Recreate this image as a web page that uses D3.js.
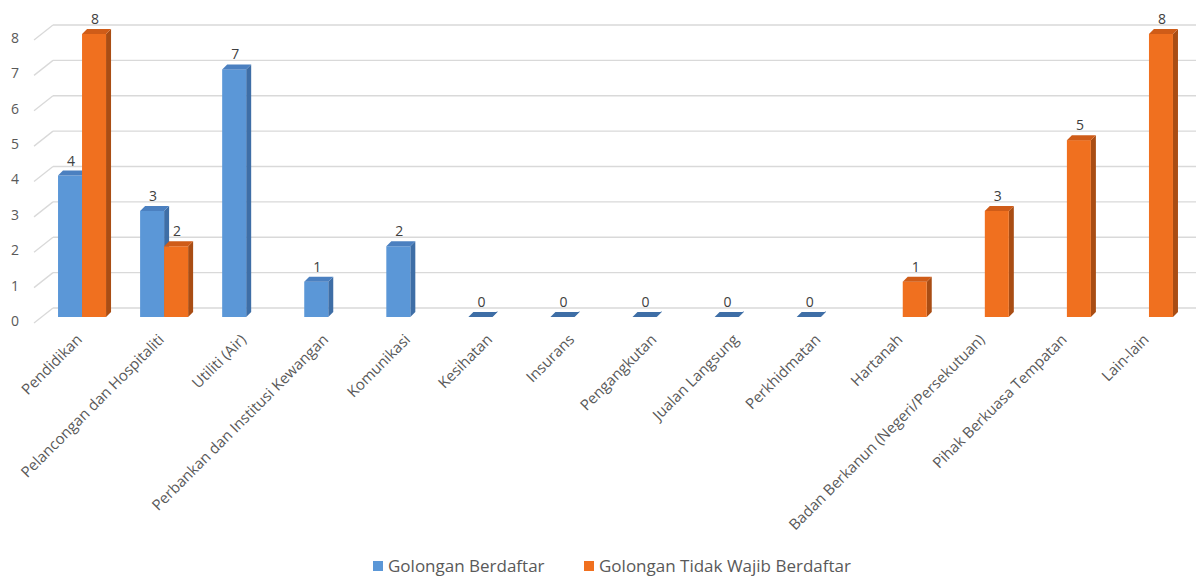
<!DOCTYPE html>
<html lang="en">
	<head>
		<meta charset="utf-8">
		<title>Golongan Berdaftar vs Tidak Wajib Berdaftar</title>
		<script type="text/javascript" src="https://cdn.jsdelivr.net/npm/d3@7/dist/d3.min.js"></script>
		<style type="text/css">
			body { margin: 0; background: #fff; }
			text { font-family: "Open Sans", sans-serif; }
		</style>
	</head>
	<body>
		<script type="text/javascript">

			//Data
			var categories = ["Pendidikan", "Pelancongan dan Hospitaliti", "Utiliti (Air)",
							  "Perbankan dan Institusi Kewangan", "Komunikasi", "Kesihatan",
							  "Insurans", "Pengangkutan", "Jualan Langsung", "Perkhidmatan",
							  "Hartanah", "Badan Berkanun (Negeri/Persekutuan)",
							  "Pihak Berkuasa Tempatan", "Lain-lain"];
			var berdaftar  = [4, 3, 7, 1, 2, 0, 0, 0, 0, 0, null, null, null, null];
			var tidakWajib = [8, 2, null, null, null, null, null, null, null, null, 1, 3, 5, 8];
			var seriesNames = ["Golongan Berdaftar", "Golongan Tidak Wajib Berdaftar"];
			var yTicks = [0, 1, 2, 3, 4, 5, 6, 7, 8];

			//Width and height
			var w = 1200;
			var h = 576;

			var colors = [
				{ front: "#5b97d7", side: "#3e6ea6", top: "#4b80c0" },
				{ front: "#f0701f", side: "#a94d14", top: "#cf5c18" }
			];

			var dx = 5, dy = -5;     //bar depth
			var wallX = 19, wallY = -9; //offset of the back wall

			var xScale = d3.scaleBand()
							.domain(categories)
							.range([41, 1190])
							.paddingInner(0.415)
							.paddingOuter(0.2075);

			var xInner = d3.scaleBand()
							.domain([0, 1])
							.range([0, xScale.bandwidth()]);

			var yScale = d3.scaleLinear()
							.domain([0, 8])
							.range([317, 34]);

			var svg = d3.select("body")
						.append("svg")
						.attr("width", w)
						.attr("height", h);

			//Gridlines on the back wall
			var grid = svg.append("g");
			grid.selectAll("line.h")
				.data(yTicks)
				.enter()
				.append("line")
				.attr("class", "h")
				.attr("x1", 34 + wallX)
				.attr("x2", 1196)
				.attr("y1", function(d) { return yScale(d) + wallY; })
				.attr("y2", function(d) { return yScale(d) + wallY; })
				.attr("stroke", "#d9d9d9")
				.attr("stroke-width", 1.3);
			grid.selectAll("line.d")
				.data(yTicks)
				.enter()
				.append("line")
				.attr("class", "d")
				.attr("x1", 34)
				.attr("x2", 34 + wallX)
				.attr("y1", function(d) { return yScale(d) + 6; })
				.attr("y2", function(d) { return yScale(d) + wallY; })
				.attr("stroke", "#d9d9d9")
				.attr("stroke-width", 1.3);

			//Y axis labels
			svg.append("g")
				.attr("transform", "translate(25,4)")
				.call(d3.axisLeft(yScale).tickValues(yTicks).tickSize(0).tickPadding(6))
				.call(function(g) { g.select(".domain").remove(); })
				.selectAll("text")
				.attr("font-family", "Open Sans, sans-serif")
				.attr("font-size", "14px")
				.attr("fill", "#595959");

			//Flatten the two series into bar records
			var bars = [];
			[berdaftar, tidakWajib].forEach(function(series, s) {
				series.forEach(function(v, i) {
					if (v !== null) bars.push({ cat: categories[i], s: s, v: v });
				});
			});

			function bx(d) { return xScale(d.cat) + xInner(d.s); }
			var bw = xInner.bandwidth();

			var barG = svg.append("g")
						  .selectAll("g")
						  .data(bars)
						  .enter()
						  .append("g");

			//Side face
			barG.append("path")
				.attr("d", function(d) {
					var x1 = bx(d) + bw, y0 = yScale(0), y1 = yScale(d.v) - (d.v === 0 ? 1 : 0);
					return "M" + x1 + "," + y0 + "L" + (x1 + dx) + "," + (y0 + dy) +
						   "L" + (x1 + dx) + "," + (y1 + dy) + "L" + x1 + "," + y1 + "Z";
				})
				.attr("fill", function(d) { return colors[d.s].side; });

			//Front face
			barG.append("rect")
				.attr("x", bx)
				.attr("y", function(d) { return yScale(d.v); })
				.attr("width", bw)
				.attr("height", function(d) { return yScale(0) - yScale(d.v); })
				.attr("fill", function(d) { return colors[d.s].front; });

			//Top face
			barG.append("path")
				.attr("d", function(d) {
					var x0 = bx(d), y1 = yScale(d.v);
					return "M" + x0 + "," + y1 + "L" + (x0 + bw) + "," + y1 +
						   "L" + (x0 + bw + dx) + "," + (y1 + dy) + "L" + (x0 + dx) + "," + (y1 + dy) + "Z";
				})
				.attr("fill", function(d) { return d.v === 0 ? colors[d.s].side : colors[d.s].top; });

			//Value labels
			barG.append("text")
				.text(function(d) { return d.v; })
				.attr("text-anchor", "middle")
				.attr("x", function(d) { return bx(d) + bw / 2 + 1; })
				.attr("y", function(d) { return yScale(d.v) - 10; })
				.attr("font-size", "14px")
				.attr("fill", "#404040");

			//Category labels
			svg.append("g")
				.attr("transform", "translate(0,334)")
				.call(d3.axisBottom(xScale).tickSize(0).tickPadding(0))
				.call(function(g) { g.select(".domain").remove(); })
				.selectAll("text")
				.attr("font-family", "Open Sans, sans-serif")
				.attr("font-size", "15px")
				.attr("fill", "#595959")
				.attr("text-anchor", "end")
				.attr("dy", "0.35em")
				.attr("transform", "rotate(-45) translate(-4,0)");

			//Legend
			var legend = svg.append("g")
							.selectAll("g")
							.data(seriesNames)
							.enter()
							.append("g")
							.attr("transform", function(d, i) {
								return "translate(" + [373, 584][i] + ",561)";
							});
			legend.append("rect")
				  .attr("width", 10)
				  .attr("height", 10)
				  .attr("fill", function(d, i) { return colors[i].front; });
			legend.append("text")
				  .text(function(d) { return d; })
				  .attr("x", 15)
				  .attr("y", 11)
				  .attr("font-size", "17px")
				  .attr("fill", "#595959");

		</script>
	</body>
</html>
